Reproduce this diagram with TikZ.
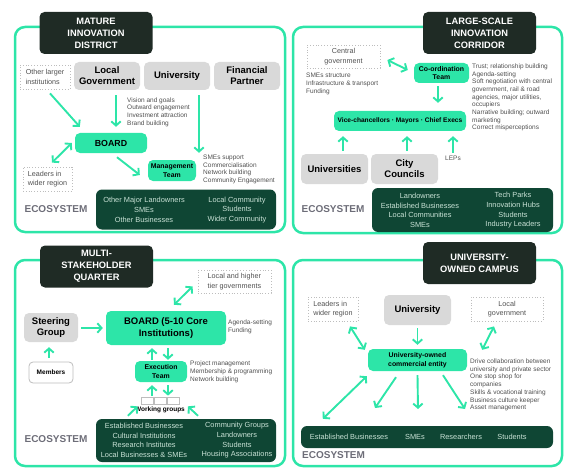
\documentclass[tikz,border=0pt]{standalone}
\usepackage{fontspec}
\setmainfont{Liberation Sans}
\usetikzlibrary{arrows.meta,calc}
\definecolor{mint}{HTML}{2DE5A8}
\definecolor{darkt}{HTML}{1F2B25}
\definecolor{ecog}{HTML}{0F4634}
\definecolor{ecotx}{HTML}{C9E2D6}
\definecolor{boxg}{HTML}{D9D9D9}
\definecolor{txg}{HTML}{505050}
\definecolor{ecolab}{HTML}{6D6D78}
\definecolor{dotg}{HTML}{BDBDBD}
\tikzset{
  frame/.style={draw=mint,line width=2.5pt,rounded corners=10pt},
  ttl/.style={fill=darkt,rounded corners=5pt,text=white,font=\fontsize{9.3}{12}\selectfont\bfseries,align=center,minimum width=113,minimum height=42,inner sep=0pt},
  gbox/.style={fill=boxg,rounded corners=5pt,font=\fontsize{9.5}{11}\selectfont\bfseries,align=center,inner sep=0pt},
  mbox/.style={fill=mint,rounded corners=5pt,font=\fontsize{6.9}{8.6}\selectfont\bfseries,align=center,inner sep=0pt},
  dbox/.style={draw=dotg,dotted,line width=0.8pt,font=\fontsize{7.2}{9.3}\selectfont,text=txg,inner sep=0pt},
  desc/.style={font=\fontsize{6.5}{7.7}\selectfont,text=txg,align=left,inner sep=0pt,anchor=west},
  ecobox/.style={fill=ecog,rounded corners=6pt,inner sep=0pt},
  ecot/.style={text=ecotx,font=\fontsize{7.4}{9.7}\selectfont,align=center,inner sep=0pt},
  ecolabel/.style={text=ecolab,font=\fontsize{10}{12}\selectfont\bfseries,inner sep=0pt},
  arr/.style={draw=mint,line width=1.9pt,-{Straight Barb[length=4.2pt,width=9.5pt]}},
  darr/.style={draw=mint,line width=1.9pt,{Straight Barb[length=4.2pt,width=9.5pt]}-{Straight Barb[length=4.2pt,width=9.5pt]}},
  wbox/.style={draw=dotg,fill=white,line width=0.7pt,minimum width=12,minimum height=7,inner sep=0pt}
}
\begin{document}
\begin{tikzpicture}[x=1pt,y=-1pt]
\useasboundingbox (0,0) rectangle (586,476);
% ===== frames
\draw[frame] (15,27) rectangle (285,232);
\draw[frame] (293,27) rectangle (562,233);
\draw[frame] (15,260) rectangle (285,466);
\draw[frame] (293,260) rectangle (562,466);

% ===== TOP LEFT
\node[ttl] (t1) at (96,33) {MATURE\\INNOVATION\\DISTRICT};
\node[dbox,minimum width=50,minimum height=24,align=left] (ol) at (45,77) {Other larger\\institutions};
\node[gbox,minimum width=66,minimum height=28] (lg) at (107,76) {Local\\Government};
\node[gbox,minimum width=66,minimum height=28] (un) at (177,76) {University};
\node[gbox,minimum width=66,minimum height=28] (fp) at (247,76) {Financial\\Partner};
\node[desc] (d1) at (127,112) {Vision and goals\\Outward engagement\\Investment attraction\\Brand building};
\node[mbox,minimum width=72,minimum height=20,font=\fontsize{8.8}{10}\selectfont\bfseries] (bd) at (111,143) {BOARD};
\node[mbox,minimum width=48,minimum height=21] (mt) at (172,170.5) {Management\\Team};
\node[desc] (d2) at (203,169.3) {SMEs support\\Commercialisation\\Network building\\Community Engagement};
\node[dbox,minimum width=49,minimum height=24,align=left] (ld) at (47.5,179) {Leaders in\\wider region};
\node[ecobox,minimum width=180,minimum height=40] (e1) at (186,209.5) {};
\node[ecot] (e1l) at (144,210) {Other Major Landowners\\SMEs\\Other Businesses};
\node[ecot] (e1r) at (237,210) {Local Community\\Students\\Wider Community};
\node[ecolabel] (el1) at (56,209) {ECOSYSTEM};
\draw[arr] ($(ol.south)+(5,4)$) -- ($(bd.north west)+(5,-6)$);
\draw[arr] ($(lg.south)+(9,5)$) -- ($(bd.north)+(5,-6)$);
\draw[arr] ($(un.south)+(22,5)$) -- ($(mt.north)+(27,-7)$);
\draw[darr] ($(bd.west)+(-3,0)$) -- ($(ld.north)+(4.5,-4)$);
\draw[arr] ($(bd.south)+(6,4)$) -- ($(mt.west)+(-8,4.5)$);

% ===== TOP RIGHT
\node[ttl] (t2) at (479.5,33) {LARGE-SCALE\\INNOVATION\\CORRIDOR};
\node[dbox,minimum width=73,minimum height=23,align=center] (cg) at (343.5,56.5) {Central\\government};
\node[desc] (d3) at (306,84) {SMEs structure\\Infrastructure \& transport\\Funding};
\node[mbox,minimum width=55,minimum height=20] (ct) at (441.5,73) {Co-ordination\\Team};
\node[desc] (d4) at (472,97.5) {Trust; relationship building\\Agenda-setting\\Soft negotiation with central\\government, rail \& road\\agencies, major utilities,\\occupiers\\Narrative building; outward\\marketing\\Correct misperceptions};
\node[mbox,minimum width=132,minimum height=20,font=\fontsize{6.6}{8}\selectfont\bfseries] (vc) at (400,121) {Vice-chancellors · Mayors · Chief Execs};
\node[gbox,minimum width=67,minimum height=30] (un2) at (334.5,169) {Universities};
\node[gbox,minimum width=67,minimum height=30] (cc) at (404.5,169) {City\\Councils};
\node[desc,anchor=center] (leps) at (453,158) {LEPs};
\node[ecobox,minimum width=181,minimum height=44] (e2) at (462.5,210) {};
\node[ecot] (e2l) at (420,210.5) {Landowners\\Established Businesses\\Local Communities\\SMEs};
\node[ecot] (e2r) at (513,210.5) {Tech Parks\\Innovation Hubs\\Students\\Industry Leaders};
\node[ecolabel] (el2) at (333,209) {ECOSYSTEM};
\draw[darr] ($(cg.east)+(7,3.5)$) -- ($(ct.west)+(-6,-3)$);
\draw[arr] ($(ct.south)+(-3.5,3)$) -- ($(vc.north)+(38,-8)$);
\draw[arr] ($(un2.north)+(8.5,-3)$) -- ($(vc.south)+(-57,5)$);
\draw[arr] ($(cc.north)+(2.5,-3)$) -- ($(vc.south)+(7,5)$);
\draw[arr] ($(leps.north)+(0,-3)$) -- ($(vc.south)+(53,5)$);

% ===== BOTTOM LEFT
\node[ttl] (t3) at (96.5,266.5) {MULTI-\\STAKEHOLDER\\QUARTER};
\node[dbox,minimum width=73,minimum height=23,align=left] (lhg) at (234.5,281.5) {Local and higher\\tier governments};
\node[gbox,minimum width=54,minimum height=29] (sg) at (51,327.5) {Steering\\Group};
\node[mbox,minimum width=120,minimum height=34,font=\fontsize{9.5}{11.5}\selectfont\bfseries] (bb) at (166,328) {BOARD (5-10 Core\\Institutions)};
\node[desc] (d5) at (228,327) {Agenda-setting\\Funding};
\node[draw=dotg,fill=white,line width=0.8pt,rounded corners=4pt,minimum width=44,minimum height=21,inner sep=0pt,font=\fontsize{6.5}{8}\selectfont\bfseries] (mem) at (51,372.5) {Members};
\node[mbox,minimum width=52,minimum height=21] (et) at (161,371.5) {Execution\\Team};
\node[desc] (d6) at (190,372) {Project management\\Membership \& programming\\Network building};
\node[wbox] (w1) at (147,400.5) {};
\node[wbox] (w2) at (160,400.5) {};
\node[wbox] (w3) at (173,400.5) {};
\node[font=\fontsize{6.5}{8}\selectfont\bfseries,inner sep=0pt] (wgl) at (160,409.5) {Working groups};
\node[ecobox,minimum width=180,minimum height=43] (e3) at (186,440.5) {};
\node[ecot] (e3l) at (144,440.5) {Established Businesses\\Cultural Institutions\\Research Institutes\\Local Businesses \& SMEs};
\node[ecot] (e3r) at (237,440.5) {Community Groups\\Landowners\\Students\\Housing Associations};
\node[ecolabel] (el3) at (56,439) {ECOSYSTEM};
\draw[darr] ($(bb.north)+(8,-6)$) -- ($(lhg.south west)+(-5,-7)$);
\draw[arr] ($(sg.east)+(3,0.5)$) -- ($(bb.west)+(-3,0)$);
\draw[arr] ($(mem.north)+(-2,-4)$) -- ($(sg.south)+(-2,5)$);
\draw[arr] ($(et.north)+(-9,-1)$) -- ($(bb.south)+(-14,3)$);
\draw[arr] ($(bb.south)+(2,3)$) -- ($(et.north)+(7,-1)$);
\draw[arr] ($(w1.north)+(5,-1)$) -- ($(et.south)+(-9,3)$);
\draw[arr] ($(et.south)+(7,3)$) -- ($(w3.north)+(-5,-1)$);
\draw[arr] ($(e3.north west)+(32,-3)$) -- ($(w1.south west)+(-3,2)$);
\draw[arr] ($(e3.north)+(12,-3)$) -- ($(w3.south east)+(8.5,2)$);

% ===== BOTTOM RIGHT
\node[ttl] (t4) at (479.5,263) {UNIVERSITY-\\OWNED CAMPUS};
\node[dbox,minimum width=50,minimum height=24,align=left] (lw) at (333,309) {Leaders in\\wider region};
\node[gbox,minimum width=67,minimum height=30] (un3) at (417.5,310) {University};
\node[dbox,minimum width=72,minimum height=24,align=center] (lg3) at (507,309) {Local\\government};
\node[mbox,minimum width=99,minimum height=22] (ue) at (417.5,360) {University-owned\\commercial entity};
\node[desc] (d7) at (470,385) {Drive collaboration between\\university and private sector\\One stop shop for\\companies\\Skills \& vocational training\\Business culture keeper\\Asset management};
\node[ecobox,minimum width=252,minimum height=22] (e4) at (427,437) {};
\node[ecot] (e4a) at (349,437) {Established Businesses};
\node[ecot] (e4b) at (415,437) {SMEs};
\node[ecot] (e4c) at (461,437) {Researchers};
\node[ecot] (e4d) at (512,437) {Students};
\node[ecolabel,anchor=west] (el4) at (302,455) {ECOSYSTEM};
\coordinate (c5) at (375,408);
\coordinate (c6) at (418,409);
\coordinate (c7) at (465,409);
\draw[darr] ($(lw.south)+(17,5)$) -- ($(ue.north west)+(-3,1)$);
\draw[arr] ($(un3.south)+(0,3)$) -- ($(ue.north)+(0,-4)$);
\draw[darr] ($(lg3.south)+(-13,5)$) -- ($(ue.north east)+(15,1)$);
\draw[darr] ($(ue.south west)+(-1,5)$) -- ($(e4.north west)+(22,-7)$);
\draw[arr] ($(ue.south)+(-21.5,6)$) -- (c5);
\draw[arr] ($(ue.south)+(0,4)$) -- (c6);
\draw[arr] ($(ue.south)+(25.5,4)$) -- (c7);
\end{tikzpicture}
\end{document}
